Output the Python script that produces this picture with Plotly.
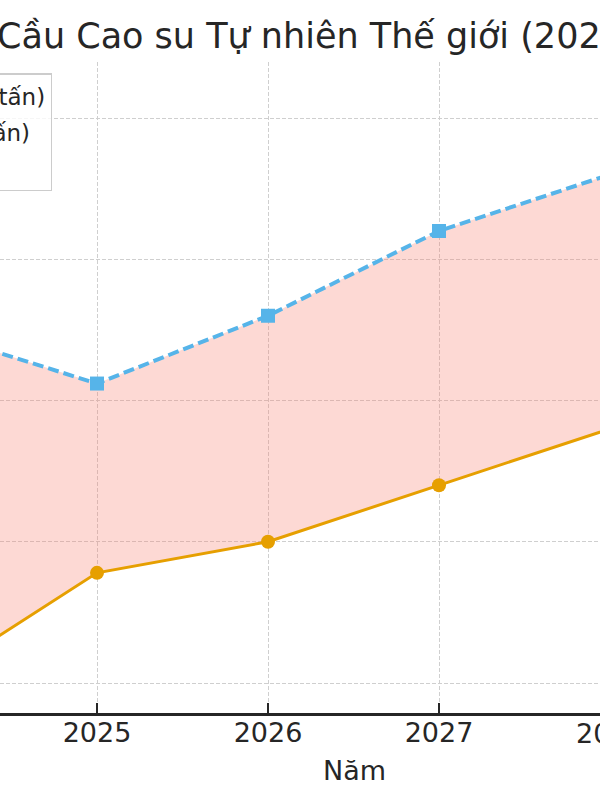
import plotly.graph_objects as go

years = [2024, 2025, 2026, 2027, 2028]
supply = [14.00, 14.39, 14.50, 14.70, 14.90]   # Cung (triệu tấn)
demand = [15.25, 15.06, 15.30, 15.60, 15.80]   # Cầu (triệu tấn)
supply_label = "Cung (triệu tấn)"
demand_label = "Cầu (triệu tấn)"
gap_label = "Thâm hụt"
title_text = "Cầu Cao su Tự nhiên Thế giới (2024-2030)"
x_title = "Năm"
tick_years = [2025, 2026, 2027, 2028]
edge_tick = 2028  # tick just past the right edge; its label is partly visible

FONT = "DejaVu Sans"
W, H = 600, 800
T, B = 62, 87
plot_h = H - T - B
x_range = [2025 - 97 / 171, 2025 + 503 / 171]

def py(p):
    return (H - B - p) / plot_h

def px_paper(xv):
    return (xv - x_range[0]) / (x_range[1] - x_range[0])

fig = go.Figure()
# shaded gap first (drawn beneath the lines)
fig.add_trace(go.Scatter(
    x=years, y=supply, mode="lines", line=dict(width=0),
    showlegend=False, hoverinfo="skip",
))
fig.add_trace(go.Scatter(
    x=years, y=demand, mode="lines", line=dict(width=0),
    fill="tonexty", fillcolor="rgba(250,128,114,0.3)",
    name=gap_label, legendgroup="c", legendrank=3,
))
fig.add_trace(go.Scatter(
    x=years, y=supply, mode="lines+markers", name=supply_label,
    line=dict(color="#E69F00", width=3),
    marker=dict(symbol="circle", size=14, color="#E69F00"),
    legendgroup="a", legendrank=1,
))
fig.add_trace(go.Scatter(
    x=years, y=demand, mode="lines+markers", name=demand_label,
    line=dict(color="#56B4E9", width=4, dash="11px,5px"),
    marker=dict(symbol="square", size=14, color="#56B4E9"),
    legendgroup="b", legendrank=2,
))

fig.update_layout(
    width=W, height=H,
    margin=dict(l=0, r=0, t=T, b=B, autoexpand=False),
    paper_bgcolor="white", plot_bgcolor="white",
    font=dict(family=FONT, color="#262626"),
    showlegend=True,
    legend=dict(
        x=52 / W, xanchor="right", y=py(73), yanchor="top",
        font=dict(family=FONT, size=23, color="#262626"),
        bgcolor="rgba(255,255,255,0.8)", bordercolor="#cccccc", borderwidth=1.5,
        tracegroupgap=3,
    ),
    annotations=[
        dict(text=title_text, xref="paper", yref="paper", x=-5 / W, y=py(36),
             xanchor="left", yanchor="middle", showarrow=False,
             font=dict(family=FONT, size=35, color="#262626")),
        dict(text=x_title, xref="paper", yref="paper", x=354 / W, y=py(770),
             xanchor="center", yanchor="middle", showarrow=False,
             font=dict(family=FONT, size=27, color="#262626")),
        dict(text=str(edge_tick), xref="paper", yref="paper", x=px_paper(edge_tick),
             y=py(733), xanchor="center", yanchor="middle", showarrow=False,
             font=dict(family=FONT, size=27, color="#262626")),
    ],
)
fig.update_xaxes(
    range=x_range,
    tickmode="array", tickvals=tick_years, ticktext=[str(t) for t in tick_years],
    ticks="inside", ticklen=10, tickwidth=1.5, tickcolor="#262626",
    tickfont=dict(family=FONT, size=27, color="#262626"),
    ticklabelstandoff=-6,
    showline=True, linecolor="#262626", linewidth=2.5,
    showgrid=True, gridcolor="#cfcfcf", gridwidth=1, griddash="4px,2px",
    zeroline=False,
)
fig.update_yaxes(
    range=[14.0 - 30 / 282.5, 14.0 + 651 / 282.5 - 30 / 282.5],
    tickmode="array", tickvals=[14.0, 14.5, 15.0, 15.5, 16.0],
    showticklabels=False, ticks="",
    showline=False, zeroline=False,
    showgrid=True, gridcolor="#cfcfcf", gridwidth=1, griddash="4px,2px",
)
fig.write_html("out.html", config={"displayModeBar": False},
               post_script="document.body.style.margin='0';")
